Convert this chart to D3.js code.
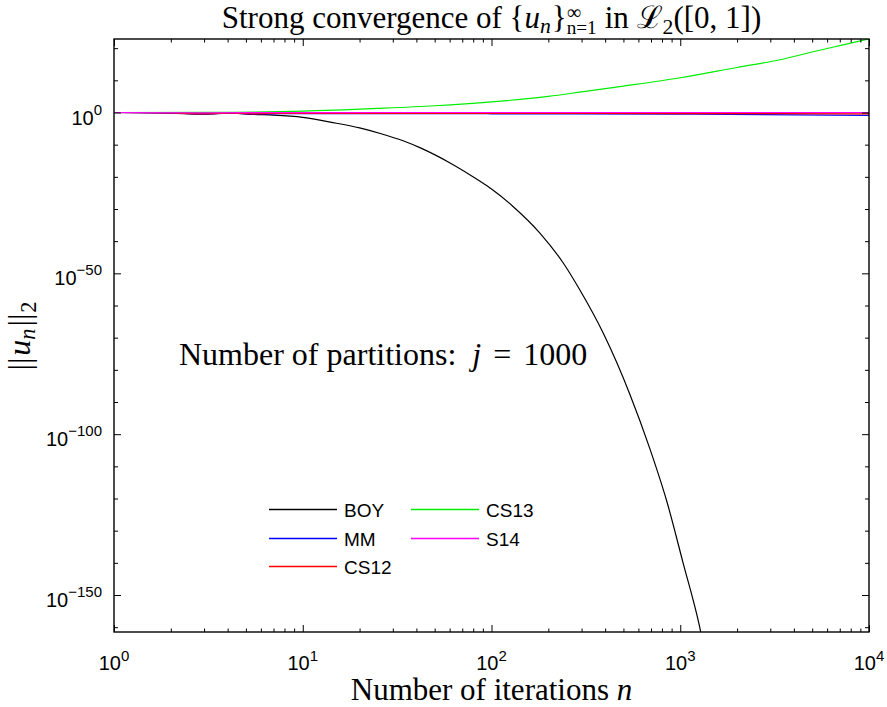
<!DOCTYPE html>
<html>
<head>
<meta charset="utf-8">
<script src="https://cdn.jsdelivr.net/npm/d3@7"></script>
<style>
  html, body { margin: 0; padding: 0; background: #fff; }
  svg { display: block; }
  text { white-space: pre; }
</style>
</head>
<body>
<div id="chart"></div>
<script>
// ---- Data ----
const seriesNames = ["BOY", "MM", "CS12", "CS13", "S14"];
const seriesColors = ["#000000", "#0000ff", "#ff0000", "#00ee00", "#ff00ff"];

const boyN = [1, 2, 3, 4.2, 5.5, 7, 10, 14, 20, 26, 34, 42, 60, 87, 100, 130, 180, 240, 294, 390, 540, 690, 850, 1035, 1257, 1300];
const boyU = [1, 0.63, 0.32, 0.63, 0.25, 0.16, 0.032, 1e-3, 1.6e-5, 2.5e-7, 1.6e-9, 1e-11, 2.5e-16, 4e-22, 1.6e-24, 6.3e-30, 4e-38, 1.6e-47, 6.3e-56, 3.2e-69, 3.2e-88, 3.2e-105, 1e-121, 1e-140, 1e-159, 1e-163];

const mmN = [1, 2, 3, 4.2, 5.5, 7, 10, 30, 100, 1000, 10000];
const mmU = [1, 0.7, 0.4, 0.63, 0.35, 0.4, 0.45, 0.45, 0.4, 0.3, 0.13];

const cs12N = [1, 2, 3, 4.2, 5.5, 7, 10, 100, 1000, 10000];
const cs12U = [1, 0.7, 0.4, 0.63, 0.4, 0.5, 0.5, 0.5, 0.45, 0.4];

const cs13N = [1, 3, 10, 26, 50, 100, 200, 300, 500, 1000, 2000, 3380, 5000, 7000, 10000];
const cs13U = [1, 1.1, 2.5, 20, 126, 2000, 1e5, 2.5e6, 1.6e8, 6.3e10, 1e14, 2.5e16, 6.3e18, 6.3e20, 7.9e22];

const s14N = [1, 3, 10, 100, 1000, 10000];
const s14U = [1, 0.8, 0.95, 1, 1, 1];

const xTickExp = [0, 1, 2, 3, 4];
const yTickExp = [0, -50, -100, -150];
const yMinorExp = [20, 10, -10, -20, -30, -40, -60, -70, -80, -90, -110, -120, -130, -140, -160];
const xDomain = [1, 1e4];
const yDomain = [Math.pow(10, -161.5), Math.pow(10, 22.85)];

const series = [
  { n: boyN, u: boyU },
  { n: mmN, u: mmU },
  { n: cs12N, u: cs12U },
  { n: cs13N, u: cs13U },
  { n: s14N, u: s14U }
];

// ---- Layout ----
const width = 887, height = 707;
const margin = { top: 39, right: 18, bottom: 75, left: 114 };
const chartWidth = width - margin.left - margin.right;
const chartHeight = height - margin.top - margin.bottom;
const serif = "'Liberation Serif', 'DejaVu Serif', serif";
const sans = "'Liberation Sans', Arial, sans-serif";

const svg = d3.select("#chart").append("svg")
  .attr("width", width).attr("height", height);

const chartArea = svg.append("g")
  .attr("transform", `translate(${margin.left},${margin.top})`);

const x = d3.scaleLog().domain(xDomain).range([0, chartWidth]);
const y = d3.scaleLog().domain(yDomain).range([chartHeight, 0]);

// one <text> made of tspans (sub/superscripts); under:true stacks a piece
// below the previous one at the same x
function richText(parent, parts, px, py, anchor, baseSize, family) {
  const txt = parent.append("text").attr("fill", "#000");
  let cx = 0, lastStart = 0, lastW = 0;
  parts.forEach(p => {
    const el = txt.append("tspan")
      .attr("y", p.shift || 0)
      .attr("font-family", p.family || family)
      .attr("font-size", baseSize * (p.scale || 1))
      .attr("font-style", p.italic ? "italic" : "normal")
      .text(p.t);
    const w = el.node().getComputedTextLength();
    if (p.under) {
      el.attr("x", lastStart);
      cx = lastStart + Math.max(lastW, w) + (p.gap || 0);
    } else {
      cx += p.pre || 0;
      el.attr("x", cx);
      lastStart = cx; lastW = w;
      cx += w + (p.gap || 0);
    }
  });
  const off = anchor === "middle" ? -cx / 2 : anchor === "end" ? -cx : 0;
  txt.attr("transform", `translate(${px + off},${py})`);
  return txt;
}

// ---- Clip & lines ----
svg.append("clipPath").attr("id", "clip")
  .append("rect").attr("width", chartWidth).attr("height", chartHeight);

const line = d3.line()
  .x(d => x(d[0]))
  .y(d => y(d[1]))
  .curve(d3.curveMonotoneX);

chartArea.append("g").attr("clip-path", "url(#clip)")
  .selectAll("path")
  .data(series)
  .enter()
  .append("path")
  .attr("fill", "none")
  .attr("stroke", (d, i) => seriesColors[i])
  .attr("stroke-width", 1.2)
  .attr("d", d => line(d.n.map((n, i) => [n, d.u[i]])));

// ---- Axes (ticks inward on all four sides) ----
const xMinor = [];
for (let e = 0; e < 4; e++) for (let k = 2; k <= 9; k++) xMinor.push(k * Math.pow(10, e));
const xMajor = xTickExp.map(e => Math.pow(10, e));
const yMajor = yTickExp.map(e => Math.pow(10, e));
const yMinor = yMinorExp.map(e => Math.pow(10, e));

function styleAxis(g) {
  g.select(".domain").remove();
  g.selectAll("line").attr("stroke", "#000").attr("stroke-width", 1);
  g.selectAll("text").remove();
}

chartArea.append("g").attr("transform", `translate(0,${chartHeight})`)
  .call(d3.axisBottom(x).tickValues(xMajor).tickSize(-7)).call(styleAxis);
chartArea.append("g").attr("transform", `translate(0,${chartHeight})`)
  .call(d3.axisBottom(x).tickValues(xMinor).tickSize(-3.5)).call(styleAxis);
chartArea.append("g")
  .call(d3.axisTop(x).tickValues(xMajor).tickSize(-7)).call(styleAxis);
chartArea.append("g")
  .call(d3.axisTop(x).tickValues(xMinor).tickSize(-3.5)).call(styleAxis);

chartArea.append("g")
  .call(d3.axisLeft(y).tickValues(yMajor).tickSize(-7)).call(styleAxis);
chartArea.append("g")
  .call(d3.axisLeft(y).tickValues(yMinor).tickSize(-4)).call(styleAxis);
chartArea.append("g").attr("transform", `translate(${chartWidth},0)`)
  .call(d3.axisRight(y).tickValues(yMajor).tickSize(-7)).call(styleAxis);
chartArea.append("g").attr("transform", `translate(${chartWidth},0)`)
  .call(d3.axisRight(y).tickValues(yMinor).tickSize(-4)).call(styleAxis);

chartArea.append("rect")
  .attr("width", chartWidth).attr("height", chartHeight)
  .attr("fill", "none").attr("stroke", "#000").attr("stroke-width", 1.4);

// tick labels
const expText = e => String(e).replace("-", "\u2212");
xTickExp.forEach(e => {
  richText(chartArea, [
    { t: "10" },
    { t: expText(e), scale: 0.75, shift: -9 }
  ], x(Math.pow(10, e)), chartHeight + 38, "middle", 20, sans);
});
yTickExp.forEach(e => {
  richText(chartArea, [
    { t: "10" },
    { t: expText(e), scale: 0.75, shift: -10 }
  ], -12, y(Math.pow(10, e)) + 12, "end", 20, sans);
});

// ---- Titles ----
richText(svg, [
  { t: "Strong convergence of {" },
  { t: "u", italic: true },
  { t: "n", italic: true, scale: 0.7, shift: 5 },
  { t: "}", pre: 1 },
  { t: "\u221E", scale: 0.65, shift: -9 },
  { t: "n=1", scale: 0.62, shift: 6, under: true, gap: 8 },
  { t: "in " },
  { t: "\u2112", family: "'DejaVu Serif', serif" },
  { t: "2", scale: 0.7, shift: 6 },
  { t: "([0, 1])" }
], margin.left + chartWidth / 2, 28, "middle", 31, serif);

richText(svg, [
  { t: "Number of iterations " },
  { t: "n", italic: true }
], margin.left + chartWidth / 2, 700, "middle", 31, serif);

const yLab = svg.append("g").attr("transform", "translate(30,336) rotate(-90)");
richText(yLab, [
  { t: "||", gap: 2 },
  { t: "u", italic: true },
  { t: "n", italic: true, scale: 0.7, shift: 5, gap: 2 },
  { t: "||", gap: 1 },
  { t: "2", scale: 0.7, shift: 6 }
], 0, 0, "middle", 32, serif);

richText(svg, [
  { t: "Number of partitions:" },
  { t: "j", italic: true, pre: 16, gap: 12 },
  { t: "=", gap: 12 },
  { t: "1000" }
], 179, 365, "start", 32, serif);

// ---- Legend ----
const legendRows = [509.5, 538.5, 566.5];
const legend = svg.append("g").attr("transform", "translate(269,0)");
const legendItems = legend.selectAll("g")
  .data(seriesNames)
  .enter()
  .append("g")
  .attr("transform", (d, i) => `translate(${Math.floor(i / 3) * 142},${legendRows[i % 3]})`);

legendItems.append("line")
  .attr("x1", 0).attr("x2", 68)
  .attr("stroke", d => seriesColors[seriesNames.indexOf(d)])
  .attr("stroke-width", 1.3);

legendItems.append("text")
  .attr("x", 75).attr("y", 7)
  .attr("font-family", sans)
  .attr("font-size", 19)
  .text(d => d);
</script>
</body>
</html>
